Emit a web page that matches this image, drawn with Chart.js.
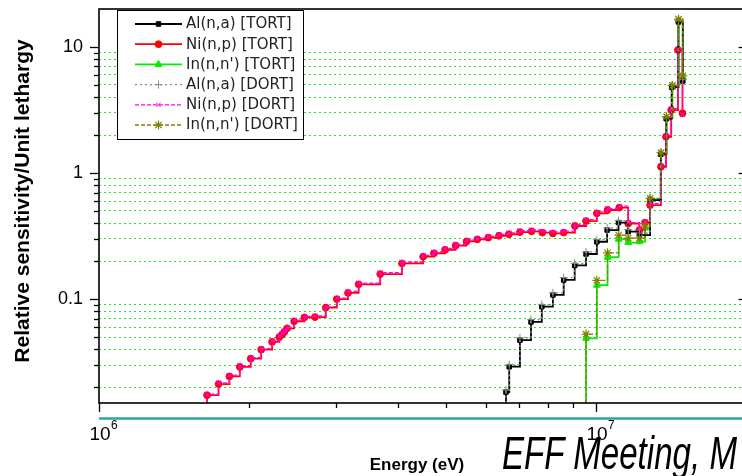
<!DOCTYPE html>
<html>
<head>
<meta charset="utf-8">
<script src="https://cdn.jsdelivr.net/npm/chart.js@4/dist/chart.umd.min.js"></script>
<style>
  html, body { margin: 0; padding: 0; background: #fff; overflow: hidden; width: 742px; height: 476px; }
  #wrap { position: absolute; left: 0; top: 0; width: 760px; height: 476px; }
  #slideTitle {
    position: absolute; left: 502px; top: 430px;
    font: italic 46px/46px "Liberation Sans", Arial, sans-serif;
    transform: scaleX(0.72); transform-origin: 0 0;
    white-space: nowrap; color: #000;
  }
</style>
</head>
<body>
<div id="wrap"><canvas id="chart" width="760" height="476"></canvas></div>
<div id="slideTitle">EFF Meeting, M</div>
<script>
// Axis ranges
const X_MIN = 1e6, X_MAX = 2e7;
const Y_MIN = 0.015, Y_MAX = 20;

// Tick labels
const xMajorTicks = [1e6, 1e7];
const xTickLabels = [['10', '6'], ['10', '7']];
const yMajorTicks = [0.1, 1, 10];
const yTickLabels = ['0.1', '1', '10'];

// Ni(n,p): lower group edges (eV) and relative sensitivity per unit lethargy
const niEnergy = [1.65e6, 1.74e6, 1.83e6, 1.92e6, 2.02e6, 2.12e6, 2.23e6, 2.305e6, 2.335e6, 2.36e6,
  2.39e6, 2.47e6, 2.59e6, 2.72e6, 2.86e6, 3.01e6, 3.17e6, 3.33e6, 3.68e6, 4.07e6,
  4.49e6, 4.72e6, 4.97e6, 5.22e6, 5.49e6, 5.77e6, 6.07e6, 6.38e6, 6.68e6, 7.03e6,
  7.42e6, 7.80e6, 8.19e6, 8.61e6, 9.07e6, 9.55e6, 10.04e6, 10.55e6, 11.14e6, 11.61e6,
  12.23e6, 12.55e6, 12.85e6, 13.51e6, 13.83e6, 14.17e6, 14.62e6, 14.93e6];
const niTort = [0.0173, 0.0212, 0.0244, 0.0290, 0.0337, 0.0397, 0.0458, 0.0499, 0.0523, 0.0549,
  0.0586, 0.0667, 0.0717, 0.0720, 0.0856, 0.100, 0.112, 0.131, 0.158, 0.192,
  0.217, 0.231, 0.246, 0.266, 0.287, 0.298, 0.307, 0.318, 0.327, 0.340,
  0.345, 0.337, 0.332, 0.337, 0.380, 0.416, 0.479, 0.509, 0.532, 0.397,
  0.353, 0.404, 0.557, 1.12, 1.94, 3.16, 9.47, 2.98];
const niDort = [0.0176, 0.0217, 0.0250, 0.0297, 0.0344, 0.0405, 0.0468, 0.0510, 0.0534, 0.0560,
  0.0597, 0.0680, 0.0731, 0.0735, 0.0873, 0.102, 0.115, 0.134, 0.162, 0.197,
  0.222, 0.237, 0.252, 0.272, 0.294, 0.305, 0.315, 0.326, 0.335, 0.349,
  0.354, 0.346, 0.341, 0.346, 0.390, 0.427, 0.492, 0.522, 0.546, 0.405,
  0.362, 0.414, 0.571, 1.15, 1.99, 3.24, 9.60, 2.90];

// Al(n,a)
const alEnergy = [6.59e6, 6.69e6, 7.03e6, 7.40e6, 7.78e6, 8.19e6, 8.61e6, 9.06e6, 9.55e6, 10.04e6,
  10.53e6, 11.10e6, 11.61e6, 12.23e6, 12.85e6, 13.50e6, 13.85e6, 14.20e6, 14.65e6, 14.95e6];
const alTort = [0.0183, 0.0291, 0.0473, 0.0660, 0.0872, 0.108, 0.142, 0.185, 0.228, 0.285,
  0.353, 0.405, 0.343, 0.322, 0.610, 1.41, 2.70, 4.80, 15.8, 5.37];
const alDort = [0.0190, 0.0302, 0.0492, 0.0688, 0.0905, 0.112, 0.148, 0.192, 0.237, 0.296,
  0.366, 0.420, 0.356, 0.334, 0.630, 1.46, 2.79, 4.95, 16.2, 5.50];

// In(n,n')
const inEnergy = [9.55e6, 10.04e6, 10.55e6, 11.11e6, 11.61e6, 12.23e6, 12.55e6, 12.85e6, 13.52e6,
  13.87e6, 14.25e6, 14.66e6, 14.95e6];
const inTort = [0.0489, 0.129, 0.215, 0.299, 0.281, 0.286, 0.366, 0.610, 1.42, 2.73, 4.81, 16.3, 5.78];
const inDort = [0.0527, 0.141, 0.233, 0.322, 0.305, 0.305, 0.380, 0.630, 1.45, 2.80, 4.95, 16.6, 5.90];

// Histogram points; each curve rises from the bottom of the axis at its first group
function steps(energy, values) {
  return [{ x: energy[0], y: Y_MIN }].concat(energy.map((e, i) => ({ x: e, y: values[i] })));
}
const hideFirst = (r) => (c) => (c.dataIndex === 0 ? 0 : r);

// Tick values: decades plus the 2..9 multiples inside the range
function logTicks(min, max) {
  const out = [];
  for (let e = Math.floor(Math.log10(min)); e <= Math.ceil(Math.log10(max)); e++) {
    for (let m = 1; m <= 9; m++) {
      const v = m * Math.pow(10, e);
      if (v >= min * 0.999 && v <= max * 1.001) out.push(v);
    }
  }
  return out;
}
const isDecade = (v) => Math.abs(Math.log10(v) - Math.round(Math.log10(v))) < 1e-6;
const yTicks = logTicks(Y_MIN, 10);
const xTicks = logTicks(X_MIN, X_MAX);

const FONT = '"Liberation Sans", Arial, sans-serif';

const frame = {
  id: 'frame',
  afterDatasetsDraw(chart) {
    const ctx = chart.ctx, a = chart.chartArea;
    const xs = chart.scales.x, ys = chart.scales.y;
    const line = (x1, y1, x2, y2) => { ctx.beginPath(); ctx.moveTo(x1, y1); ctx.lineTo(x2, y2); ctx.stroke(); };
    ctx.save();
    ctx.strokeStyle = '#000';
    ctx.lineWidth = 1.6;
    ctx.strokeRect(a.left, a.top, a.right - a.left, a.bottom - a.top);
    ctx.lineWidth = 1.3;
    yTicks.forEach((v) => {
      const y = Math.round(ys.getPixelForValue(v)) + 0.5;
      const major = isDecade(v);
      line(a.left - (major ? 9 : 5), y, a.left, y);
      if (major) line(a.right - 7, y, a.right, y);
    });
    xTicks.forEach((v) => {
      const x = Math.round(xs.getPixelForValue(v)) + 0.5;
      const major = isDecade(v);
      line(x, a.bottom, x, a.bottom + (major ? 9 : 5));
    });
    // y tick labels
    ctx.fillStyle = '#000';
    ctx.font = '18px ' + FONT;
    ctx.textAlign = 'right';
    ctx.textBaseline = 'middle';
    yMajorTicks.forEach((v, i) => ctx.fillText(yTickLabels[i], 83, ys.getPixelForValue(v)));
    // x tick labels with superscript exponent
    ctx.textAlign = 'left';
    ctx.textBaseline = 'alphabetic';
    xMajorTicks.forEach((v, i) => {
      const px = xs.getPixelForValue(v);
      ctx.font = '19px ' + FONT;
      const wb = ctx.measureText(xTickLabels[i][0]).width;
      const x0 = px - wb / 2 + 1;
      ctx.fillText(xTickLabels[i][0], x0, 440);
      ctx.font = '12px ' + FONT;
      ctx.fillText(xTickLabels[i][1], x0 + wb + 0.5, 429);
    });
    // rule under the axis
    ctx.strokeStyle = '#2aa6a6';
    ctx.lineWidth = 2.5;
    line(a.left, 418.5, chart.width, 418.5);
    // axis titles
    ctx.fillStyle = '#000';
    ctx.font = 'bold 17px ' + FONT;
    ctx.textAlign = 'center';
    ctx.fillText('Energy (eV)', 417, 470);
    ctx.save();
    ctx.translate(28.5, 201);
    ctx.rotate(-Math.PI / 2);
    ctx.font = 'bold 21px ' + FONT;
    ctx.fillText('Relative sensitivity/Unit lethargy', 0, 0);
    ctx.restore();
    ctx.restore();
  },
  afterDraw(chart) {
    // legend box with a line sample and marker for each curve
    const ctx = chart.ctx;
    const box = { x: 117.5, y: 10.5, w: 186, h: 129 };
    ctx.save();
    ctx.fillStyle = '#fff';
    ctx.fillRect(box.x, box.y, box.w, box.h);
    ctx.strokeStyle = '#000';
    ctx.lineWidth = 1;
    ctx.strokeRect(box.x, box.y, box.w, box.h);
    chart.data.datasets.forEach((ds, i) => {
      const y = 24 + i * 20.2;
      ctx.save();
      ctx.strokeStyle = ds.borderColor;
      ctx.lineWidth = ds.borderWidth;
      ctx.setLineDash(ds.borderDash || []);
      ctx.beginPath(); ctx.moveTo(135, y); ctx.lineTo(182, y); ctx.stroke();
      ctx.setLineDash([]);
      ctx.fillStyle = ds.pointBackgroundColor;
      ctx.strokeStyle = ds.pointBorderColor;
      ctx.lineWidth = ds.pointBorderWidth;
      Chart.helpers.drawPoint(ctx, {
        pointStyle: ds.pointStyle, radius: ds.legendRadius, rotation: 0, borderWidth: ds.pointBorderWidth
      }, 158.5, y);
      ctx.restore();
      ctx.fillStyle = '#222';
      ctx.font = '15px "DejaVu Sans", sans-serif';
      ctx.textAlign = 'left';
      ctx.textBaseline = 'middle';
      ctx.fillText(ds.label, 186, y + 0.5);
    });
    ctx.restore();
  }
};

function curve(label, energy, values, style) {
  return Object.assign({
    label,
    data: steps(energy, values),
    stepped: true,
    fill: false,
    pointRadius: hideFirst(style.legendRadius),
    pointBackgroundColor: style.borderColor,
    pointBorderColor: style.borderColor,
  }, style);
}

const datasets = [
  curve('Al(n,a) [TORT]', alEnergy, alTort,
    { borderColor: '#000000', borderWidth: 1.8, pointStyle: 'rect', legendRadius: 3.2, pointBorderWidth: 1, order: 2 }),
  curve('Ni(n,p) [TORT]', niEnergy, niTort,
    { borderColor: '#ff0000', borderWidth: 1.8, pointStyle: 'circle', legendRadius: 3.4, pointBorderWidth: 1, order: 2 }),
  curve('In(n,n\') [TORT]', inEnergy, inTort,
    { borderColor: '#00ee00', borderWidth: 1.8, pointStyle: 'triangle', legendRadius: 4, pointBorderWidth: 1, order: 2 }),
  curve('Al(n,a) [DORT]', alEnergy, alDort,
    { borderColor: '#8a8a8a', borderWidth: 1.3, borderDash: [2, 3], pointStyle: 'cross', legendRadius: 4, pointBorderWidth: 1, order: 1 }),
  curve('Ni(n,p) [DORT]', niEnergy, niDort,
    { borderColor: '#ff00ff', borderWidth: 1.3, borderDash: [4, 2], pointStyle: 'crossRot', legendRadius: 3.2, pointBorderWidth: 1, order: 1 }),
  curve('In(n,n\') [DORT]', inEnergy, inDort,
    { borderColor: '#808000', borderWidth: 1.3, borderDash: [4, 2], pointStyle: 'star', legendRadius: 4.5, pointBorderWidth: 1.2, order: 0 }),
];

new Chart(document.getElementById('chart'), {
  type: 'line',
  data: { datasets },
  options: {
    responsive: false,
    animation: false,
    events: [],
    layout: { padding: { left: 99, top: 9, right: 760 - 745.6, bottom: 476 - 403 } },
    plugins: { legend: { display: false }, tooltip: { enabled: false } },
    scales: {
      x: {
        type: 'logarithmic', min: X_MIN, max: X_MAX,
        ticks: { display: false },
        grid: { display: false, drawTicks: false },
        border: { display: false },
        afterBuildTicks: (s) => { s.ticks = xTicks.map((v) => ({ value: v, major: isDecade(v) })); }
      },
      y: {
        type: 'logarithmic', min: Y_MIN, max: Y_MAX,
        ticks: { display: false },
        grid: {
          drawTicks: false,
          lineWidth: 1,
          color: (c) => (c.tick && !c.tick.major ? '#22e022' : 'rgba(0,0,0,0)')
        },
        border: { display: false, dash: [2, 3] },
        afterBuildTicks: (s) => { s.ticks = yTicks.map((v) => ({ value: v, major: isDecade(v) })); }
      }
    }
  },
  plugins: [frame]
});
</script>
</body>
</html>
